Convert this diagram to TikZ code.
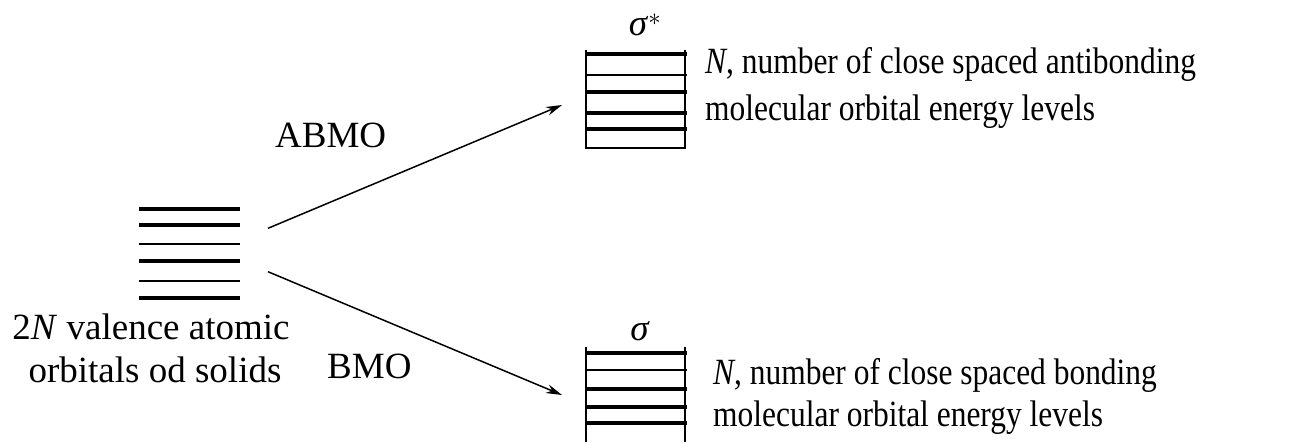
\documentclass[tikz,border=0pt]{standalone}
\usepackage{fontspec}
\setmainfont{Liberation Serif}
\usetikzlibrary{arrows.meta}
\tikzset{
  thicklvl/.style={line width=4pt},
  thinlvl/.style={line width=1.8pt},
  sidebar/.style={line width=1.8pt},
  txt/.style={inner sep=0pt, font=\fontsize{37}{44}\selectfont},
  arr/.style={line width=1.5pt, -{Stealth[length=16pt,width=9pt]}}
}
\newcommand{\cond}[1]{\scalebox{0.85}[1]{#1}}
\begin{document}
\begin{tikzpicture}[x=1pt,y=-1pt]
\useasboundingbox (0,0) rectangle (1297,442);
% left stack
\draw[thicklvl] (139,208.7) -- (240,208.7);
\draw[thicklvl] (139,224.7) -- (240,224.7);
\draw[thinlvl]  (139,244) -- (240,244);
\draw[thicklvl] (139,261) -- (240,261);
\draw[thinlvl]  (139,281) -- (240,281);
\draw[thicklvl] (139,298) -- (240,298);
% top stack
\draw[sidebar] (586,50) -- (586,148) -- (685,148) -- (685,50);
\draw[thicklvl] (586,54) -- (687,54);
\draw[thinlvl]  (586,75) -- (687,75);
\draw[thicklvl] (586,92) -- (687,92);
\draw[thicklvl] (586,113) -- (687,113);
\draw[thicklvl] (586,129) -- (687,129);
% bottom stack
\draw[sidebar] (586,347) -- (586,442);
\draw[sidebar] (685,347) -- (685,442);
\draw[thicklvl] (586,353) -- (687,353);
\draw[thinlvl]  (586,370) -- (687,370);
\draw[thicklvl] (586,389) -- (687,389);
\draw[thicklvl] (586,407) -- (687,407);
\draw[thicklvl] (586,423) -- (687,423);
% labels
\node[txt, anchor=base] (sigs) at (645,35) {\textit{σ}$^{*}$};
\node[txt, anchor=base] (sig) at (640,340) {\textit{σ}};
\node[txt, anchor=base west] (abmo) at (275,147) {ABMO};
\node[txt, anchor=base west] (bmo) at (327,378) {BMO};
\node[txt, anchor=base] (l1) at (151,339) {2\textit{N} valence atomic};
\node[txt, anchor=base] (l2) at (155,382) {orbitals od solids};
\node[txt, anchor=base west] (t1) at (705,73) {\cond{\textit{N}, number of close spaced antibonding}};
\node[txt, anchor=base west] (t2) at (705,120) {\cond{molecular orbital energy levels}};
\node[txt, anchor=base west] (b1) at (713,384) {\cond{\textit{N}, number of close spaced bonding}};
\node[txt, anchor=base west] (b2) at (713,426) {\cond{molecular orbital energy levels}};
% arrows
\coordinate (as) at (268,228.3);
\coordinate (ae) at (562,105);
\coordinate (bs) at (268,271.7);
\coordinate (be) at (562,395);
\draw[arr] (as) -- (ae);
\draw[arr] (bs) -- (be);
\end{tikzpicture}
\end{document}
